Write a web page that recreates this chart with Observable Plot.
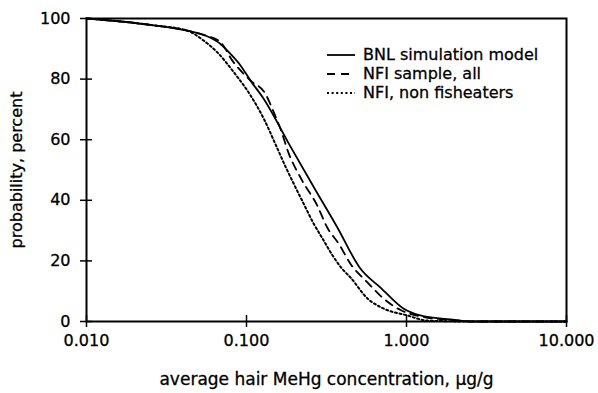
<!DOCTYPE html>
<html><head><meta charset="utf-8">
<script src="https://cdn.jsdelivr.net/npm/d3@7"></script>
<script src="https://cdn.jsdelivr.net/npm/@observablehq/plot@0.6"></script>
<style>
body{margin:0;background:#fff;}
#wrap{position:relative;width:598px;height:393px;font-family:"DejaVu Sans",sans-serif;}
#wrap svg text{stroke:#000;stroke-width:0.3px;}
#legend{position:absolute;left:326px;top:45px;font-size:16px;color:#000;-webkit-text-stroke:0.3px #000;}
.row{display:flex;align-items:center;height:19px;}
.row svg{width:30px;height:10px;margin-right:7px;}
</style></head><body><div id="wrap"></div>
<script>
// BNL simulation model (solid)
const bnlX = [0.01, 0.0251, 0.0426, 0.0554, 0.0688, 0.0794, 0.0917, 0.106, 0.128, 0.188, 0.2636, 0.369, 0.516, 0.688, 0.956, 1.22, 1.88, 2.5, 10];
const bnlP = [100, 97.9, 96, 94.4, 91.6, 88.3, 84.5, 79.5, 73.5, 57.8, 44.3, 31.1, 17.4, 11.2, 4.3, 2, 0.7, 0, 0];
// NFI sample, all (dashed)
const allX = [0.01, 0.0251, 0.0426, 0.0554, 0.0688, 0.0816, 0.106, 0.131, 0.148, 0.163, 0.1836, 0.2228, 0.2767, 0.319, 0.378, 0.447, 0.57, 0.717, 0.917, 1.2, 2.0, 2.8, 10];
const allP = [100, 97.9, 96, 94.4, 92.2, 86.1, 79.5, 75.2, 69.1, 63.6, 55.5, 46.5, 38.3, 31.1, 25.6, 19.0, 12.9, 7.6, 3.8, 1.8, 0.4, 0, 0];
// NFI, non fisheaters (dotted)
const nonX = [0.01, 0.0251, 0.0426, 0.054, 0.0655, 0.0832, 0.106, 0.128, 0.1556, 0.175, 0.1976, 0.228, 0.2636, 0.304, 0.351, 0.396, 0.447, 0.57, 0.717, 1.01, 1.35, 2.5, 10];
const nonP = [100, 97.9, 96, 92.7, 88.9, 82.3, 74.6, 67, 57.2, 51.2, 45.4, 38.8, 32.2, 26.7, 21.2, 17.4, 14.5, 7.6, 4.3, 2, 0.3, 0, 0];

const seriesNames = ["BNL simulation model", "NFI sample, all", "NFI, non fisheaters"];
const xTicks = [0.01, 0.1, 1, 10];
const yTicks = [0, 20, 40, 60, 80, 100];
const xLabel = "average hair MeHg concentration, μg/g";
const yLabel = "probability, percent";

const toRows = (xs, ps) => xs.map((x, i) => ({x, p: ps[i]}));
const dashes = [null, "8,6", "2,2.6"];

const chart = Plot.plot({
  width: 598, height: 393,
  marginLeft: 86, marginRight: 32, marginTop: 18, marginBottom: 72,
  style: {fontFamily: "DejaVu Sans, sans-serif", fontSize: "16px", color: "#000", background: "#fff"},
  x: {type: "log", domain: [0.01, 10]},
  y: {domain: [0, 100]},
  marks: [
    Plot.frame({strokeWidth: 2}),
    Plot.axisX({ticks: xTicks, tickFormat: d3.format(".3f"), tickSize: 6, tickPadding: 7, strokeWidth: 1.5, label: null}),
    Plot.axisX({ticks: xTicks, tickSize: 6, dy: -6, text: null, strokeWidth: 1.5, label: null}),
    Plot.axisX({ticks: [], label: xLabel, labelAnchor: "center", labelOffset: 63, labelArrow: "none", fontSize: 17}),
    Plot.axisY({ticks: yTicks, tickSize: 6, tickPadding: 10, strokeWidth: 1.5, label: null}),
    Plot.axisY({ticks: yTicks, tickSize: 6, dx: 6, text: null, strokeWidth: 1.5, label: null}),
    Plot.axisY({ticks: [], label: yLabel, labelAnchor: "center", labelOffset: 76, labelArrow: "none", fontSize: 16}),
    Plot.line(toRows(bnlX, bnlP), {x: "x", y: "p", stroke: "#000", strokeWidth: 1.8, curve: "monotone-x"}),
    Plot.line(toRows(allX, allP), {x: "x", y: "p", stroke: "#000", strokeWidth: 1.8, strokeDasharray: dashes[1], curve: "monotone-x"}),
    Plot.line(toRows(nonX, nonP), {x: "x", y: "p", stroke: "#000", strokeWidth: 2, strokeDasharray: dashes[2], curve: "monotone-x"})
  ]
});
const wrap = document.getElementById("wrap");
wrap.appendChild(chart);

const legend = document.createElement("div");
legend.id = "legend";
seriesNames.forEach((name, i) => {
  const row = document.createElement("div");
  row.className = "row";
  row.innerHTML = `<svg viewBox="0 0 30 10"><line x1="1" y1="5" x2="29" y2="5" stroke="#000" stroke-width="1.8" ${dashes[i] ? `stroke-dasharray="${dashes[i]}"` : ""}/></svg><span>${name}</span>`;
  legend.appendChild(row);
});
wrap.appendChild(legend);
</script></body></html>
